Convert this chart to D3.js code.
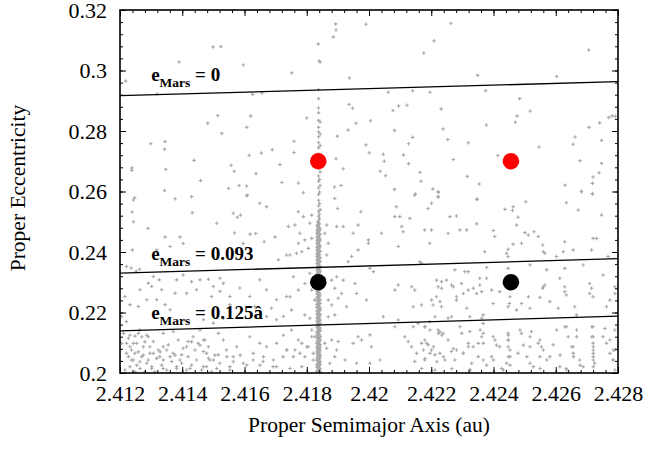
<!DOCTYPE html>
<html>
<head>
<meta charset="utf-8">
<script src="https://cdn.jsdelivr.net/npm/d3@7"></script>
<style>
  body { margin: 0; background: #fff; }
  text { font-family: "Liberation Serif", "Times New Roman", serif; }
</style>
</head>
<body>
<div id="chart"></div>
<script>
// axis ranges and ticks
const xTicks = [2.412, 2.414, 2.416, 2.418, 2.42, 2.422, 2.424, 2.426, 2.428];
const yTicks = [0.2, 0.22, 0.24, 0.26, 0.28, 0.3, 0.32];

// secular resonance lines (a at ends, e at ends)
const lineA = [2.412, 2.428];
const eMars0 = [0.2917, 0.2963];
const eMars093 = [0.2330, 0.2378];
const eMars125 = [0.2139, 0.2188];
const lineLabels = ["0", "0.093", "0.125â"];
const labelAnchors = [[2.41300, 0.2965], [2.41300, 0.2375], [2.41300, 0.2177]];

// big markers
const redDots = [[2.41837, 0.2700], [2.42456, 0.2700]];
const blackDots = [[2.41837, 0.2300], [2.42456, 0.2300]];

// asteroid family members, upper area
const ptsUpper = [
  [2.41499,0.3078],[2.41524,0.3079],[2.4139,0.3028],[2.41596,0.3018],[2.41752,0.2992],
  [2.41837,0.3088],[2.4184,0.3031],[2.41218,0.2965],[2.41319,0.2922],[2.41626,0.2921],
  [2.41656,0.2926],[2.41893,0.3154],[2.41894,0.3134],[2.41885,0.3111],[2.4199,0.3153],
  [2.42263,0.3156],[2.42209,0.3098],[2.42176,0.3058],[2.42706,0.3068],[2.41937,0.2975],
  [2.42349,0.2984],[2.42603,0.2980],[2.41843,0.3028]
];
const ptsMid = [
  [2.41514,0.2851],[2.41482,0.2826],[2.41527,0.2792],[2.4162,0.2850],[2.41607,0.2812],
  [2.418,0.2843],[2.41299,0.2758],[2.41345,0.2765],[2.41343,0.2740],[2.41689,0.2738],
  [2.41654,0.2727],[2.41615,0.2720],[2.41759,0.2766],[2.41759,0.2729],[2.41438,0.2703],
  [2.41238,0.2678],[2.41238,0.2670],[2.41347,0.2673],[2.41557,0.2687],[2.41567,0.2667],
  [2.41637,0.2659],[2.41714,0.2689],[2.41459,0.2636],[2.41549,0.2610],[2.41583,0.2620],
  [2.41607,0.2618],[2.41609,0.2588],[2.4172,0.2630],[2.41773,0.2628],[2.41789,0.2596],
  [2.41343,0.2603],[2.41377,0.2576],[2.41247,0.2579],
  [2.41936,0.2888],[2.41947,0.2875],[2.42062,0.2928],[2.4214,0.2933],[2.42196,0.2928],
  [2.42077,0.2868],[2.42095,0.2883],[2.42122,0.2885],[2.42232,0.2873],[2.42375,0.2933],
  [2.42484,0.2907],[2.42518,0.2866],[2.42476,0.2850],[2.4247,0.2829],[2.42377,0.2820],
  [2.41958,0.2826],[2.42005,0.2834],[2.41933,0.2803],[2.41898,0.2783],[2.42082,0.2802],
  [2.42238,0.2807],[2.42253,0.2772],[2.4214,0.2779],[2.42127,0.2758],[2.4199,0.2754],
  [2.42001,0.2728],[2.42046,0.2723],[2.42049,0.2700],[2.42111,0.2721],[2.42127,0.2692],
  [2.42319,0.2761],[2.42271,0.2706],[2.42414,0.2719],[2.42546,0.2747],[2.42656,0.2756],
  [2.42662,0.2780],[2.42707,0.2812],[2.42741,0.2827],[2.4277,0.2845],[2.42781,0.2850],
  [2.42791,0.2849],[2.42747,0.2769],[2.42678,0.2702],[2.42747,0.2693],[2.42739,0.2662],
  [2.4272,0.2648],[2.42718,0.2627],[2.4263,0.2621],[2.42682,0.2601],[2.42718,0.2593],
  [2.41894,0.2708],[2.41917,0.2675],[2.41889,0.2615],[2.4191,0.2620],[2.42036,0.2667],
  [2.42053,0.2652],[2.42164,0.2663],[2.42167,0.2634],[2.42082,0.2607],[2.42149,0.2592],
  [2.42205,0.2608],[2.42223,0.2597],[2.42223,0.2582],[2.42316,0.2650],[2.42354,0.2625],
  [2.42348,0.2574]
];
// left part, e < 0.26
const ptsLeft = [
  [2.41243,0.2572],[2.41239,0.2532],[2.41243,0.2500],[2.4129,0.2478],[2.41345,0.2450],
  [2.41361,0.2418],[2.41318,0.2407],[2.4124,0.2407],[2.4143,0.2583],[2.41432,0.2530],
  [2.41511,0.2495],[2.41607,0.2586],[2.41649,0.2561],[2.41671,0.2550],[2.41564,0.2528],
  [2.41577,0.2515],[2.41587,0.2522],[2.41618,0.2459],[2.41636,0.2461],[2.41663,0.2434],
  [2.41698,0.2450],[2.41568,0.2463],[2.41596,0.2428],[2.41393,0.2450],[2.41403,0.2428],
  [2.41735,0.2390],[2.41709,0.2374],
  [2.41221,0.2352],[2.41236,0.2347],[2.41252,0.2336],[2.41263,0.2343],
  [2.41307,0.2319],[2.41326,0.2308],[2.41291,0.2297],[2.41334,0.2275],[2.41382,0.2308],
  [2.41403,0.2324],[2.4143,0.2302],[2.41457,0.2308],[2.41484,0.2310],[2.415,0.2286],
  [2.41521,0.2313],[2.41532,0.2297],[2.41377,0.2264],[2.41414,0.2264],[2.41446,0.2275],
  [2.41494,0.2253],[2.41521,0.2270],[2.41553,0.2253],[2.41585,0.2281],[2.41617,0.2253],
  [2.41649,0.2308],[2.41671,0.2275],[2.41703,0.2242],[2.41735,0.2253],[2.41216,0.2253],
  [2.41232,0.2226],[2.41259,0.2220],[2.41286,0.2242],[2.41318,0.2242],[2.41345,0.2226],
  [2.41361,0.2209],[2.41468,0.2176],[2.415,0.2165],[2.41532,0.2181],[2.41671,0.2187],
  [2.41703,0.2176],[2.41725,0.2187],[2.41687,0.2214],[2.41205,0.2187],[2.41221,0.2170],
  [2.41264,0.2275],[2.41302,0.2286],[2.41633,0.2220],[2.41553,0.2226],
  [2.41211,0.2131],[2.41227,0.2115],[2.41243,0.2098],[2.41259,0.2131],[2.41275,0.2087],
  [2.41291,0.2120],[2.41307,0.2104],[2.41323,0.2076],[2.41339,0.2131],[2.41355,0.2093],
  [2.41371,0.2065],[2.41387,0.2109],[2.41403,0.2082],[2.41419,0.2054],[2.41435,0.2120],
  [2.41451,0.2098],[2.41468,0.2071],[2.41484,0.2087],[2.415,0.2043],[2.41516,0.2060],
  [2.41532,0.2109],[2.41542,0.2076],[2.41221,0.2065],[2.41237,0.2043],[2.41254,0.2026],
  [2.4127,0.2054],[2.41286,0.2032],[2.41302,0.2015],[2.41318,0.2049],[2.41334,0.2026],
  [2.4135,0.2010],[2.41366,0.2038],[2.41382,0.2015],[2.41398,0.2032],[2.41414,0.2010],
  [2.4143,0.2026],[2.41446,0.2043],[2.41462,0.2010],[2.41478,0.2021],[2.41494,0.2004],
  [2.41216,0.2010],[2.41248,0.2004],[2.4128,0.2004],[2.41312,0.2004],[2.41564,0.2054],
  [2.41596,0.2032],[2.41628,0.2065],[2.4166,0.2038],[2.41692,0.2021],[2.41724,0.2054],
  [2.41617,0.2120],[2.41649,0.2098],[2.41703,0.2098],[2.41735,0.2076],[2.41575,0.2087],
  [2.41457,0.2142],[2.41371,0.2137],[2.41264,0.2142],[2.41232,0.2087],[2.41296,0.2065],
  [2.41339,0.2087],[2.41419,0.2104],[2.41473,0.2109],[2.41516,0.2131],[2.41205,0.2098],
  [2.41248,0.2065],[2.41328,0.2054],[2.41398,0.2060],[2.41484,0.2049],[2.41553,0.2021]
];
// extra reading of the lower left band
const ptsLowLeft = [
  [2.41232,0.2125],[2.41248,0.2122],[2.4127,0.2120],[2.41286,0.2125],[2.41221,0.2098],
  [2.41254,0.2098],[2.4128,0.2103],[2.41296,0.2087],[2.41237,0.2076],[2.41259,0.2070],
  [2.41275,0.2059],[2.41227,0.2054],[2.41243,0.2043],[2.41264,0.2037],[2.41291,0.2043],
  [2.41307,0.2065],[2.41329,0.2070],[2.4135,0.2076],[2.41318,0.2048],[2.41339,0.2043],
  [2.41361,0.2054],[2.41377,0.2059],[2.41393,0.2043],[2.41414,0.2087],[2.4143,0.2103],
  [2.41441,0.2076],[2.41457,0.2092],[2.41468,0.2109],[2.41478,0.2065],[2.41489,0.2043],
  [2.41505,0.2059],[2.41521,0.2032],[2.41543,0.2054],[2.41564,0.2037],[2.41586,0.2059],
  [2.41607,0.2026],[2.41628,0.2043],[2.4165,0.2026],[2.41232,0.2021],[2.41264,0.2015],
  [2.41302,0.2021],[2.41339,0.2015],[2.41382,0.2021],[2.41425,0.2015],[2.41468,0.2021],
  [2.41511,0.2015],[2.41553,0.2010],[2.41671,0.2087],[2.41725,0.2125],[2.41736,0.2076],
  [2.41757,0.2054],[2.41778,0.2065],[2.418,0.2087],[2.41816,0.2120],[2.41821,0.2043],
  [2.41703,0.2021],[2.41746,0.2015],[2.41784,0.2021],[2.41661,0.2054],[2.41693,0.2043]
];
// centre part, 2.4173 - 2.4227
const ptsCentre = [
  [2.41773,0.2533],[2.41789,0.2517],[2.41816,0.2522],[2.4181,0.2495],[2.41762,0.2489],
  [2.41741,0.2484],[2.41778,0.2462],[2.41794,0.2440],[2.41773,0.2429],[2.41816,0.2445],
  [2.41805,0.2412],[2.41784,0.2401],[2.41767,0.2396],[2.41746,0.2390],[2.41864,0.2489],
  [2.41858,0.2462],[2.41869,0.2429],[2.41864,0.2390],[2.41896,0.2484],[2.41917,0.2484],
  [2.4189,0.2577],[2.41899,0.2544],[2.41949,0.2462],[2.41965,0.2489],[2.41974,0.2533],
  [2.41933,0.2368],[2.41944,0.2385],[2.41965,0.2407],[2.41998,0.2440],[2.41998,0.2429],
  [2.4204,0.2462],[2.42088,0.2550],[2.42099,0.2517],[2.42083,0.2517],[2.42131,0.2511],
  [2.42105,0.2484],[2.4211,0.2467],[2.42147,0.2588],[2.42201,0.2561],[2.4219,0.2544],
  [2.42222,0.2599],[2.42222,0.2583],[2.42179,0.2473],[2.42201,0.2473],[2.42195,0.2429],
  [2.42254,0.2462],[2.4226,0.2517],[2.42094,0.2418],[2.42163,0.2368],[2.42169,0.2363],
  [2.41757,0.2318],[2.41773,0.2274],[2.41746,0.2252],[2.41794,0.2296],[2.4181,0.2330],
  [2.41816,0.2274],[2.41826,0.2241],[2.41751,0.2208],[2.41794,0.2192],[2.4181,0.2181],
  [2.41858,0.2313],[2.4188,0.2307],[2.41896,0.2318],[2.41917,0.2307],[2.4189,0.2280],
  [2.41869,0.2241],[2.4188,0.2225],[2.41901,0.2247],[2.41912,0.2263],[2.41869,0.2186],
  [2.4189,0.2192],[2.41955,0.2296],[2.4196,0.2263],[2.41992,0.2241],[2.42014,0.2335],
  [2.42003,0.2346],[2.41928,0.2219],[2.42046,0.2186],[2.42094,0.2291],[2.42083,0.2274],
  [2.42137,0.2285],[2.42147,0.2274],[2.42094,0.2175],[2.42142,0.2219],[2.42169,0.2225],
  [2.42201,0.2241],[2.42217,0.2307],[2.42233,0.2302],[2.42249,0.2307],[2.42222,0.2285],
  [2.42265,0.2291],[2.42217,0.2252],[2.42228,0.2236],[2.42206,0.2225],[2.42233,0.2219],
  [2.42212,0.2186],[2.42254,0.2181],[2.42265,0.2186],[2.42233,0.2280],
  [2.41751,0.2142],[2.41773,0.2109],[2.41784,0.2098],[2.41762,0.2076],[2.41794,0.2054],
  [2.41816,0.2142],[2.41826,0.2120],[2.41805,0.2087],[2.41821,0.2065],[2.41858,0.2098],
  [2.41864,0.2082],[2.4188,0.2109],[2.41896,0.2076],[2.4189,0.2054],[2.41901,0.2104],
  [2.41874,0.2032],[2.41949,0.2098],[2.41976,0.2109],[2.42003,0.2126],[2.42008,0.2087],
  [2.42003,0.2032],[2.4196,0.2032],[2.42035,0.2043],[2.42083,0.2153],[2.42115,0.2120],
  [2.42126,0.2104],[2.42137,0.2087],[2.42153,0.2065],[2.42169,0.2098],[2.42179,0.2109],
  [2.4219,0.2093],[2.42201,0.2076],[2.42212,0.2060],[2.42222,0.2142],[2.42238,0.2131],
  [2.42254,0.2109],[2.42244,0.2043],[2.42142,0.2153],[2.42158,0.2164],[2.42179,0.2153],
  [2.42195,0.2170],[2.42228,0.2065],[2.42179,0.2043],[2.42147,0.2038],[2.42265,0.2071],
  [2.41965,0.2120],[2.41923,0.2043]
];
// right part, 2.4226 - 2.428
const ptsRight = [
  [2.42346,0.2574],[2.42437,0.2541],[2.42463,0.2550],[2.42461,0.2537],[2.42479,0.2515],
  [2.42474,0.2489],[2.42504,0.2566],[2.42634,0.2563],[2.42672,0.2539],[2.42683,0.2599],
  [2.42718,0.2592],[2.42747,0.2522],[2.42281,0.2519],[2.42346,0.2493],[2.42292,0.2473],
  [2.42314,0.2473],[2.42399,0.2471],[2.42404,0.2451],[2.42501,0.2464],[2.42512,0.2456],
  [2.4253,0.2467],[2.42544,0.2451],[2.42463,0.2426],[2.4249,0.2429],[2.42558,0.2423],
  [2.42629,0.2434],[2.42656,0.2407],[2.4272,0.2445],[2.42731,0.2445],[2.42715,0.2407],
  [2.42768,0.2385],[2.42372,0.2401],[2.42447,0.2409],[2.42442,0.2396],[2.42447,0.2385],
  [2.4256,0.2401],[2.42565,0.2396],[2.42602,0.2385],[2.42624,0.2401],
  [2.42276,0.2341],[2.42308,0.2335],[2.42319,0.2335],[2.42271,0.2285],[2.42297,0.2296],
  [2.42281,0.2252],[2.42303,0.2263],[2.42319,0.2274],[2.42335,0.2280],[2.42346,0.2263],
  [2.42356,0.2291],[2.42362,0.2269],[2.42378,0.2349],[2.42378,0.2313],[2.42394,0.2274],
  [2.42356,0.2313],[2.4242,0.2269],[2.42447,0.2346],[2.42451,0.2230],[2.42447,0.2219],
  [2.42453,0.2252],[2.4249,0.2230],[2.42474,0.2208],[2.42517,0.2357],[2.42512,0.2252],
  [2.42549,0.2250],[2.4256,0.2285],[2.42558,0.2280],[2.42565,0.2291],[2.42571,0.2341],
  [2.42581,0.2236],[2.42608,0.2214],[2.42629,0.2346],[2.42613,0.2313],[2.42629,0.2285],
  [2.42629,0.2269],[2.42634,0.2258],[2.42661,0.2219],[2.42688,0.2357],[2.42709,0.2296],
  [2.42715,0.2280],[2.42709,0.2263],[2.4272,0.2252],[2.42752,0.2324],[2.42763,0.2219],
  [2.42774,0.2241],[2.4279,0.2285],[2.4279,0.2263],[2.42281,0.2241],[2.42314,0.2214],
  [2.42367,0.2192],[2.42362,0.2181],[2.42324,0.2186],[2.42399,0.2230],[2.42517,0.2214],
  [2.42667,0.2192],
  [2.42292,0.2153],[2.42324,0.2137],[2.42367,0.2164],[2.42367,0.2131],[2.42351,0.2098],
  [2.42319,0.2087],[2.42281,0.2076],[2.42303,0.2065],[2.42276,0.2043],[2.4233,0.2032],
  [2.42367,0.2043],[2.42399,0.2120],[2.42394,0.2054],[2.4242,0.2087],[2.42447,0.2131],
  [2.42447,0.2109],[2.42447,0.2087],[2.42453,0.2054],[2.42442,0.2032],[2.4249,0.2131],
  [2.42522,0.2137],[2.42517,0.2087],[2.42479,0.2065],[2.42549,0.2109],[2.42554,0.2087],
  [2.42549,0.2054],[2.42581,0.2054],[2.42592,0.2093],[2.42613,0.2021],[2.42629,0.2153],
  [2.4264,0.2120],[2.42667,0.2142],[2.42656,0.2087],[2.42656,0.2065],[2.42677,0.2043],
  [2.42688,0.2021],[2.4272,0.2153],[2.4272,0.2120],[2.4272,0.2098],[2.4272,0.2076],
  [2.4272,0.2054],[2.42725,0.2032],[2.42752,0.2120],[2.42763,0.2098],[2.42774,0.2065],
  [2.4279,0.2142],[2.4279,0.2076],[2.42784,0.2043],[2.42517,0.2032],[2.42426,0.2015],
  [2.42324,0.2010],[2.42634,0.2015]
];
// extra reading of the lower right band
const ptsLowRight = [
  [2.4218,0.2153],[2.42196,0.2142],[2.42223,0.2131],[2.42234,0.2125],[2.42228,0.2136],
  [2.42185,0.2098],[2.42207,0.2087],[2.42175,0.2076],[2.42196,0.2065],[2.4218,0.2048],
  [2.42218,0.2037],[2.42239,0.2054],[2.42271,0.2081],[2.42298,0.2131],[2.42303,0.2065],
  [2.42319,0.2098],[2.42335,0.2087],[2.42357,0.2142],[2.42362,0.2120],[2.42367,0.2098],
  [2.42351,0.2054],[2.42378,0.2026],[2.42405,0.2109],[2.4241,0.2092],[2.424,0.2043],
  [2.42448,0.2125],[2.42448,0.2109],[2.42453,0.2076],[2.42448,0.2054],[2.42453,0.2026],
  [2.42485,0.2142],[2.42496,0.2092],[2.42517,0.2120],[2.42507,0.2054],[2.42528,0.2021],
  [2.42544,0.2098],[2.4256,0.2076],[2.42571,0.2043],[2.4255,0.2015],[2.42603,0.2142],
  [2.42614,0.2059],[2.42635,0.2153],[2.42651,0.2087],[2.42657,0.2054],[2.42667,0.2120],
  [2.42678,0.2026],[2.42716,0.2153],[2.42716,0.2120],[2.42721,0.2087],[2.42721,0.2065],
  [2.42721,0.2043],[2.42721,0.2021],[2.42758,0.2147],[2.42774,0.2109],[2.42785,0.2076],
  [2.42785,0.2043],[2.4279,0.2010],[2.42169,0.2015],[2.42212,0.2010],[2.42266,0.2015],
  [2.42325,0.2010],[2.42432,0.2010],[2.42635,0.2010]
];
// dense column near a = 2.4184
const ptsColumn = [
  [2.41833,0.2005],[2.41833,0.2018],[2.41833,0.2026],[2.41833,0.2041],[2.41833,0.2049],
  [2.41833,0.2063],[2.41833,0.2072],[2.41833,0.2084],[2.41833,0.2097],[2.41833,0.2105],
  [2.41833,0.2118],[2.41833,0.2129],[2.41833,0.2136],[2.41833,0.2151],[2.41833,0.2160],
  [2.41833,0.2172],[2.41833,0.2183],[2.41833,0.2195],[2.41833,0.2204],[2.41833,0.2217],
  [2.41833,0.2226],[2.41833,0.2238],[2.41833,0.2249],[2.41833,0.2261],[2.41833,0.2270],
  [2.41833,0.2283],[2.41833,0.2292],[2.41833,0.2305],[2.41833,0.2316],[2.41833,0.2327],
  [2.41833,0.2339],[2.41833,0.2348],[2.41833,0.2361],[2.41833,0.2372],[2.41833,0.2384],
  [2.41833,0.2393],[2.41833,0.2406],[2.41833,0.2415],[2.41833,0.2428],[2.41833,0.2437],
  [2.41833,0.2449],[2.41833,0.2461],[2.41833,0.2472],[2.41833,0.2486],
  [2.41835,0.2008],[2.41835,0.2020],[2.41835,0.2031],[2.41835,0.2043],[2.41835,0.2054],
  [2.41835,0.2066],[2.41835,0.2077],[2.41835,0.2089],[2.41835,0.2100],[2.41835,0.2114],
  [2.41835,0.2126],[2.41835,0.2138],[2.41835,0.2149],[2.41835,0.2162],[2.41835,0.2170],
  [2.41835,0.2181],[2.41835,0.2193],[2.41835,0.2206],[2.41835,0.2219],[2.41835,0.2229],
  [2.41835,0.2241],[2.41835,0.2252],[2.41835,0.2263],[2.41835,0.2274],[2.41835,0.2285],
  [2.41835,0.2296],[2.41835,0.2308],[2.41835,0.2319],[2.41835,0.2330],[2.41835,0.2342],
  [2.41835,0.2353],[2.41835,0.2364],[2.41835,0.2375],[2.41835,0.2387],[2.41835,0.2397],
  [2.41835,0.2409],[2.41835,0.2420],[2.41835,0.2431],[2.41835,0.2443],[2.41835,0.2453],
  [2.41835,0.2465],[2.41835,0.2476],[2.41835,0.2488],[2.41835,0.2498],
  [2.41838,0.2011],[2.41838,0.2022],[2.41838,0.2034],[2.41838,0.2045],[2.41838,0.2056],
  [2.41838,0.2068],[2.41838,0.2079],[2.41838,0.2090],[2.41838,0.2101],[2.41838,0.2112],
  [2.41838,0.2124],[2.41838,0.2133],[2.41838,0.2145],[2.41838,0.2156],[2.41838,0.2166],
  [2.41838,0.2178],[2.41838,0.2189],[2.41838,0.2199],[2.41838,0.2211],[2.41838,0.2222],
  [2.41838,0.2233],[2.41838,0.2244],[2.41838,0.2255],[2.41838,0.2266],[2.41838,0.2277],
  [2.41838,0.2288],[2.41838,0.2299],[2.41838,0.2310],[2.41838,0.2321],[2.41838,0.2333],
  [2.41838,0.2344],[2.41838,0.2355],[2.41838,0.2366],[2.41838,0.2377],[2.41838,0.2389],
  [2.41838,0.2399],[2.41838,0.2410],[2.41838,0.2421],[2.41838,0.2433],[2.41838,0.2444],
  [2.41838,0.2455],[2.41838,0.2466],[2.41838,0.2478],[2.41838,0.2490],[2.41838,0.2503],
  [2.41838,0.2518],[2.41838,0.2534],[2.41838,0.2552],[2.41838,0.2571],[2.41838,0.2590],
  [2.41838,0.2612],[2.41838,0.2634],[2.41838,0.2651],[2.41838,0.2678],[2.41838,0.2693],
  [2.41838,0.2724],[2.41838,0.2745],[2.41838,0.2762],[2.41838,0.2781],[2.41838,0.2797],
  [2.41838,0.2812],[2.41838,0.2835],[2.41838,0.2860],[2.41838,0.2876],[2.41838,0.2907],
  [2.41838,0.2937],
  [2.41841,0.2002],[2.41841,0.2013],[2.41841,0.2025],[2.41841,0.2036],[2.41841,0.2047],
  [2.41841,0.2058],[2.41841,0.2070],[2.41841,0.2081],[2.41841,0.2093],[2.41841,0.2104],
  [2.41841,0.2116],[2.41841,0.2127],[2.41841,0.2139],[2.41841,0.2150],[2.41841,0.2161],
  [2.41841,0.2173],[2.41841,0.2185],[2.41841,0.2196],[2.41841,0.2207],[2.41841,0.2219],
  [2.41841,0.2231],[2.41841,0.2240],[2.41841,0.2251],[2.41841,0.2264],[2.41841,0.2276],
  [2.41841,0.2287],[2.41841,0.2298],[2.41841,0.2309],[2.41841,0.2322],[2.41841,0.2331],
  [2.41841,0.2343],[2.41841,0.2356],[2.41841,0.2367],[2.41841,0.2379],[2.41841,0.2391],
  [2.41841,0.2402],[2.41841,0.2413],[2.41841,0.2424],[2.41841,0.2435],[2.41841,0.2447],
  [2.41841,0.2459],[2.41841,0.2470],[2.41841,0.2481],[2.41841,0.2493],[2.41841,0.2510],
  [2.41841,0.2525],[2.41841,0.2560],[2.41841,0.2598],[2.41841,0.2640],[2.41841,0.2685],
  [2.41843,0.2003],[2.41843,0.2015],[2.41843,0.2030],[2.41843,0.2038],[2.41843,0.2052],
  [2.41843,0.2060],[2.41843,0.2076],[2.41843,0.2087],[2.41843,0.2094],[2.41843,0.2109],
  [2.41843,0.2121],[2.41843,0.2140],[2.41843,0.2148],[2.41843,0.2163],[2.41843,0.2175],
  [2.41843,0.2192],[2.41843,0.2208],[2.41843,0.2214],[2.41843,0.2230],[2.41843,0.2242],
  [2.41843,0.2258],[2.41843,0.2275],[2.41843,0.2286],[2.41843,0.2302],[2.41843,0.2313],
  [2.41843,0.2336],[2.41843,0.2352],[2.41843,0.2369],[2.41843,0.2381],[2.41843,0.2402],
  [2.41843,0.2418],[2.41843,0.2440],[2.41843,0.2458],[2.41843,0.2475],[2.41843,0.2540],
  [2.41843,0.2620],[2.41843,0.2665],[2.41843,0.2710],[2.41843,0.2752],[2.41843,0.2790],
  [2.41843,0.2830]
];

const width = 648, height = 450;
const margin = {top: 10, right: 30, bottom: 77, left: 120};

const svg = d3.select("#chart")
    .append("svg")
    .attr("width", width)
    .attr("height", height);

const x = d3.scaleLinear()
    .domain([2.412, 2.428])
    .range([margin.left, width - margin.right]);
const y = d3.scaleLinear()
    .domain([0.2, 0.32])
    .range([height - margin.bottom, margin.top]);

const allPts = [].concat(ptsUpper, ptsMid, ptsLeft, ptsLowLeft, ptsCentre, ptsRight, ptsLowRight, ptsColumn);

svg.append("g")
    .selectAll("path")
    .data(allPts)
    .join("path")
    .attr("d", d => `M${x(d[0]) - 1.75},${y(d[1])}h3.5M${x(d[0])},${y(d[1]) - 1.75}v3.5`)
    .attr("stroke", "#a9a9a9")
    .attr("stroke-width", 1.1)
    .attr("fill", "none");

// resonance lines
[eMars0, eMars093, eMars125].forEach(ev => {
    svg.append("line")
        .attr("x1", x(lineA[0])).attr("y1", y(ev[0]))
        .attr("x2", x(lineA[1])).attr("y2", y(ev[1]))
        .attr("stroke", "#000")
        .attr("stroke-width", 1.3);
});

// line labels
lineLabels.forEach((lab, i) => {
    const t = svg.append("text")
        .attr("x", x(labelAnchors[i][0]))
        .attr("y", y(labelAnchors[i][1]))
        .attr("font-weight", "bold")
        .attr("font-size", "19px");
    t.append("tspan").text("e");
    t.append("tspan").attr("dy", 6).attr("font-size", "13.5px").text("Mars");
    t.append("tspan").attr("dy", -6).text(" = " + lab);
});

svg.selectAll("circle.red")
    .data(redDots)
    .join("circle")
    .attr("class", "red")
    .attr("cx", d => x(d[0]))
    .attr("cy", d => y(d[1]))
    .attr("r", 8.3)
    .attr("fill", "#ff0000");

svg.selectAll("circle.black")
    .data(blackDots)
    .join("circle")
    .attr("class", "black")
    .attr("cx", d => x(d[0]))
    .attr("cy", d => y(d[1]))
    .attr("r", 8.3)
    .attr("fill", "#000");

// axes, ticks inward on all four sides
const xMinor = d3.range(2.412, 2.4281, 0.0004);
const yMinor = d3.range(0.2, 0.3201, 0.004);
const fmtX = d => d3.format("")(+d.toFixed(3));
const fmtY = d => d3.format("")(+d.toFixed(2));

svg.append("g")
    .attr("transform", `translate(0,${height - margin.bottom})`)
    .call(d3.axisBottom(x).tickValues(xTicks).tickSize(-6).tickPadding(12).tickFormat(fmtX));
svg.append("g")
    .attr("transform", `translate(0,${height - margin.bottom})`)
    .call(d3.axisBottom(x).tickValues(xMinor).tickSize(-3).tickFormat(""));
svg.append("g")
    .attr("transform", `translate(0,${margin.top})`)
    .call(d3.axisTop(x).tickValues(xTicks).tickSize(-6).tickFormat(""));
svg.append("g")
    .attr("transform", `translate(0,${margin.top})`)
    .call(d3.axisTop(x).tickValues(xMinor).tickSize(-3).tickFormat(""));

svg.append("g")
    .attr("transform", `translate(${margin.left},0)`)
    .call(d3.axisLeft(y).tickValues(yTicks).tickSize(-6).tickPadding(13).tickFormat(fmtY));
svg.append("g")
    .attr("transform", `translate(${margin.left},0)`)
    .call(d3.axisLeft(y).tickValues(yMinor).tickSize(-3).tickFormat(""));
svg.append("g")
    .attr("transform", `translate(${width - margin.right},0)`)
    .call(d3.axisRight(y).tickValues(yTicks).tickSize(-6).tickFormat(""));
svg.append("g")
    .attr("transform", `translate(${width - margin.right},0)`)
    .call(d3.axisRight(y).tickValues(yMinor).tickSize(-3).tickFormat(""));

svg.selectAll(".domain").remove();
svg.selectAll(".tick line").attr("stroke", "#000").attr("stroke-width", 1);
svg.selectAll(".tick text")
    .attr("font-family", "Liberation Serif, serif")
    .attr("font-size", "22px")
    .attr("fill", "#000");

// frame
svg.append("rect")
    .attr("x", margin.left)
    .attr("y", margin.top)
    .attr("width", width - margin.left - margin.right)
    .attr("height", height - margin.top - margin.bottom)
    .attr("fill", "none")
    .attr("stroke", "#000")
    .attr("stroke-width", 1.6);

svg.append("text")
    .attr("x", (margin.left + width - margin.right) / 2)
    .attr("y", 432)
    .attr("text-anchor", "middle")
    .attr("font-size", "21.5px")
    .text("Proper Semimajor Axis (au)");

svg.append("text")
    .attr("transform", "rotate(-90)")
    .attr("x", -188)
    .attr("y", 25)
    .attr("text-anchor", "middle")
    .attr("font-size", "21.5px")
    .text("Proper Eccentricity");
</script>
</body>
</html>
